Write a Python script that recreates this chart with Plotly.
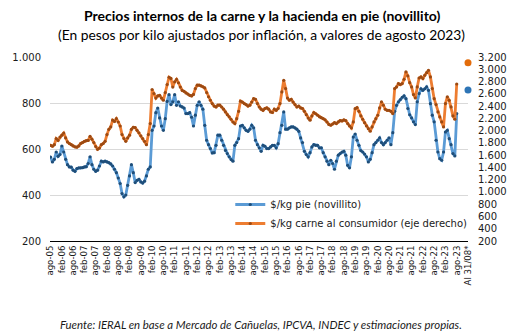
import plotly.graph_objects as go

# --- data -------------------------------------------------------------
# monthly values, ago-05 ... ago-23 (217 months)
pie_novillito = [
    565, 544, 555, 587, 568, 576, 613, 587, 555, 532,
    522, 521, 508, 503, 515, 518, 518, 519, 522, 523,
    537, 566, 532, 512, 503, 508, 526, 547, 544, 547,
    544, 541, 535, 526, 512, 497, 474, 450, 406, 392,
    400, 442, 483, 532, 497, 454, 464, 468, 457, 452,
    460, 483, 512, 522, 681, 700, 758, 778, 735, 700,
    681, 732, 807, 836, 793, 805, 836, 790, 805, 787,
    783, 778, 754, 754, 758, 738, 700, 747, 790, 805,
    790, 773, 703, 638, 619, 602, 583, 584, 616, 660,
    660, 638, 616, 594, 580, 566, 554, 547, 616, 628,
    645, 700, 703, 692, 681, 677, 686, 703, 692, 638,
    619, 605, 590, 616, 612, 602, 602, 609, 616, 616,
    605, 623, 671, 703, 761, 686, 686, 692, 696, 696,
    692, 686, 677, 648, 628, 590, 576, 566, 584, 609,
    619, 616, 616, 605, 605, 584, 566, 547, 532, 551,
    537, 512, 547, 573, 580, 587, 590, 573, 529, 518,
    566, 652, 665, 638, 616, 593, 587, 578, 566, 544,
    555, 584, 619, 628, 638, 648, 628, 619, 628, 638,
    648, 619, 671, 764, 790, 805, 815, 825, 831, 819,
    776, 749, 735, 718, 706, 805, 841, 862, 855, 862,
    870, 855, 797, 747, 718, 638, 587, 558, 551, 587,
    674, 681, 645, 619, 580, 570, 754,
]

carne_consumidor = [
    1760, 1745, 1770, 1870, 1840, 1895, 1925, 1960, 1880, 1815,
    1790, 1770, 1750, 1735, 1730, 1750, 1790, 1805, 1825, 1835,
    1840, 1905, 1860, 1805, 1740, 1695, 1715, 1770, 1790, 1825,
    1935, 2020, 2060, 2170, 2150, 2195, 2140, 2075, 1935, 1870,
    1825, 1880, 1925, 2020, 2055, 2050, 2005, 1965, 1915, 1870,
    1825, 1770, 1935, 2115, 2670, 2605, 2530, 2565, 2575, 2530,
    2495, 2620, 2750, 2870, 2850, 2710, 2795, 2835, 2780, 2710,
    2655, 2640, 2615, 2595, 2575, 2565, 2590, 2685, 2740, 2740,
    2730, 2715, 2695, 2620, 2550, 2495, 2440, 2400, 2385, 2415,
    2415, 2385, 2350, 2305, 2260, 2225, 2185, 2140, 2115, 2195,
    2315, 2480, 2465, 2440, 2425, 2400, 2415, 2465, 2520, 2510,
    2440, 2385, 2350, 2330, 2360, 2370, 2350, 2305, 2295, 2350,
    2330, 2360, 2440, 2630, 2820, 2685, 2530, 2495, 2510, 2465,
    2425, 2385, 2400, 2370, 2360, 2315, 2260, 2205, 2170, 2240,
    2295, 2275, 2250, 2225, 2210, 2195, 2175, 2140, 2100, 2087,
    2108, 2130, 2114, 2141, 2163, 2157, 2174, 2163, 2114, 2076,
    2043, 2141, 2358, 2375, 2315, 2239, 2185, 2130, 2076, 2032,
    1989, 2060, 2141, 2195, 2250, 2369, 2467, 2413, 2348, 2331,
    2331, 2315, 2277, 2685, 2712, 2766, 2750, 2766, 2837, 2956,
    2891, 2782, 2712, 2587, 2532, 2712, 2858, 2875, 2848, 2902,
    2945, 2983, 2875, 2685, 2521, 2424, 2304, 2223, 2141, 2060,
    2440, 2549, 2494, 2386, 2239, 2185, 2760,
]

# "Al 31/08*" estimate
pie_al_31_08 = [857]
carne_al_31_08 = [3108]

x_tick_labels = [
    "ago-05", "feb-06", "ago-06", "feb-07", "ago-07", "feb-08", "ago-08",
    "feb-09", "ago-09", "feb-10", "ago-10", "feb-11", "ago-11", "feb-12",
    "ago-12", "feb-13", "ago-13", "feb-14", "ago-14", "feb-15", "ago-15",
    "feb-16", "ago-16", "feb-17", "ago-17", "feb-18", "ago-18", "feb-19",
    "ago-19", "feb-20", "ago-20", "feb-21", "ago-21", "feb-22", "ago-22",
    "feb-23", "ago-23", "Al 31/08*",
]
left_tick_values = [200, 400, 600, 800, 1000]
left_tick_labels = ["200", "400", "600", "800", "1.000"]
right_tick_values = list(range(200, 3201, 200))
right_tick_labels = ["200", "400", "600", "800", "1.000", "1.200", "1.400", "1.600",
                     "1.800", "2.000", "2.200", "2.400", "2.600", "2.800", "3.000", "3.200"]

# --- figure -----------------------------------------------------------
n = len(pie_novillito)
x_months = list(range(n))
x_last = [n - 1 + 6]
x_tick_pos = list(range(0, n, 6)) + x_last
x_major_pos = list(range(0, n, 12))
x_range = [-0.3, x_last[0]]

BLUE_LINE = "#5B9BD5"
BLUE_MARK = "#1F4E79"
ORANGE_LINE = "#ED7D31"
ORANGE_MARK = "#9C4A12"
TICK_FONT = dict(family="DejaVu Sans", size=10, color="#1a1a1a")

fig = go.Figure()
fig.add_trace(go.Scatter(
    x=x_months, y=pie_novillito, mode="lines+markers", name="$/kg pie (novillito)",
    line=dict(color=BLUE_LINE, width=2.8),
    marker=dict(color=BLUE_MARK, size=3.2), yaxis="y",
))
fig.add_trace(go.Scatter(
    x=x_months, y=carne_consumidor, mode="lines+markers",
    name="$/kg carne al consumidor (eje derecho)",
    line=dict(color=ORANGE_LINE, width=2.8),
    marker=dict(color=ORANGE_MARK, size=3.2), yaxis="y2",
))
fig.add_trace(go.Scatter(
    x=x_last, y=pie_al_31_08, mode="markers", showlegend=False,
    marker=dict(color="#2E75B6", size=7), yaxis="y", cliponaxis=False,
))
fig.add_trace(go.Scatter(
    x=x_last, y=carne_al_31_08, mode="markers", showlegend=False,
    marker=dict(color="#E36C0A", size=7), yaxis="y2", cliponaxis=False,
))

L, R, T, B = 46, 53, 57, 94
W, H = 521, 335

def px_to_paper_y(py):
    return (H - B - py) / (H - T - B)

def px_to_paper_x(px):
    return (px - L) / (W - L - R)

fig.update_layout(
    width=W, height=H,
    margin=dict(l=L, r=R, t=T, b=B),
    paper_bgcolor="white", plot_bgcolor="white",
    showlegend=True,
    legend=dict(
        x=px_to_paper_x(228), y=px_to_paper_y(190), xanchor="left", yanchor="top",
        bgcolor="rgba(0,0,0,0)", font=dict(family="DejaVu Sans", size=10, color="#1a1a1a"),
        itemwidth=30, tracegroupgap=0,
    ),
    xaxis=dict(
        range=x_range, tickmode="array", tickvals=x_tick_pos, ticktext=x_tick_labels,
        tickangle=-90, ticks="", showgrid=False, zeroline=False,
        showline=True, linecolor="black", linewidth=1,
        tickfont=dict(family="DejaVu Sans", size=8.6, color="#1a1a1a"),
    ),
    xaxis2=dict(
        range=x_range, overlaying="x", anchor="y", side="bottom",
        tickmode="array", tickvals=x_major_pos, ticks="outside", ticklen=3,
        tickcolor="black", showticklabels=False, showgrid=False, zeroline=False,
        showline=False,
    ),
    xaxis3=dict(
        range=x_range, overlaying="x", anchor="y", side="bottom",
        tickmode="array", tickvals=x_major_pos, ticks="inside", ticklen=3,
        tickcolor="black", showticklabels=False, showgrid=False, zeroline=False,
        showline=False,
    ),
    yaxis=dict(
        range=[200, 1000], tickmode="array", tickvals=left_tick_values,
        ticktext=left_tick_labels, showgrid=True, gridcolor="#D9D9D9", gridwidth=1.2,
        zeroline=False, showline=False, ticks="", tickfont=TICK_FONT,
        ticklabelstandoff=8,
    ),
    yaxis2=dict(
        range=[200, 3200], overlaying="y", side="right", tickmode="array",
        tickvals=right_tick_values, ticktext=right_tick_labels, showgrid=False,
        zeroline=False, showline=False, ticks="", tickfont=TICK_FONT,
        ticklabelstandoff=9,
    ),
    annotations=[
        dict(text="<b>Precios internos de la carne y la hacienda en pie (novillito)</b>",
             xref="paper", yref="paper", x=px_to_paper_x(260), y=px_to_paper_y(15),
             xanchor="center", yanchor="middle", showarrow=False,
             font=dict(family="Lato", size=14, color="#000000")),
        dict(text="(En pesos por kilo ajustados por inflación, a valores de agosto 2023)",
             xref="paper", yref="paper", x=px_to_paper_x(260), y=px_to_paper_y(35),
             xanchor="center", yanchor="middle", showarrow=False,
             font=dict(family="Lato", size=13.8, color="#000000")),
        dict(text="<i>Fuente: IERAL en base a Mercado de Cañuelas, IPCVA, INDEC y estimaciones propias.</i>",
             xref="paper", yref="paper", x=px_to_paper_x(259.5), y=px_to_paper_y(324),
             xanchor="center", yanchor="middle", showarrow=False,
             font=dict(family="Lato", size=11.4, color="#1a1a1a")),
    ],
)

fig.write_html("out.html")
